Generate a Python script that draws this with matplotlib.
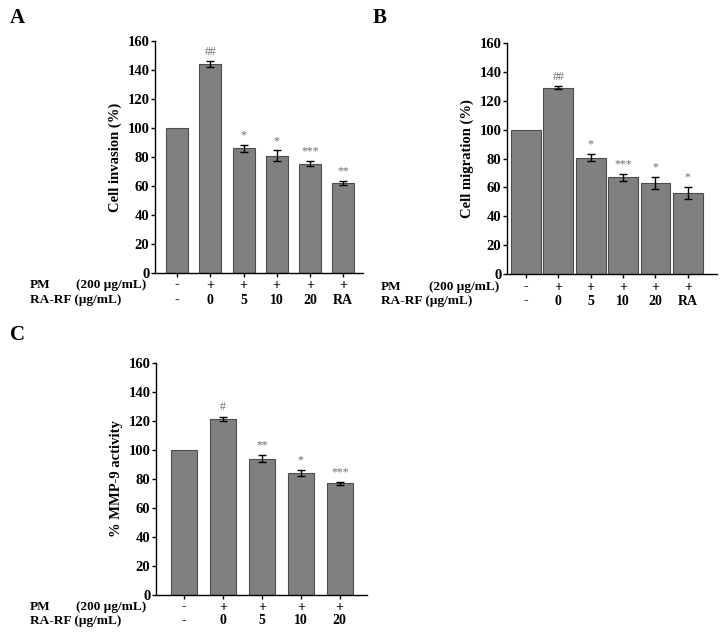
import matplotlib
matplotlib.use('Agg')
import matplotlib.pyplot as plt
import matplotlib.transforms as mtransforms

SERIF = 'Liberation Serif'
BAR = '#808080'
EDGE = '#4d4d4d'
STAR = '#6e6e6e'

# ───────────── DATA ─────────────
pm_row = ['-', '+', '+', '+', '+', '+']
rarf_row = ['-', '0', '5', '10', '20', 'RA']

inv_vals = [100, 144, 86, 81, 75.5, 62]
inv_err = [0, 2, 2.5, 3.5, 1.5, 1.5]
inv_sig = ['', '##', '*', '*', '***', '**']

mig_vals = [100, 129, 80.5, 67, 63, 56]
mig_err = [0, 1, 2.5, 2.5, 4, 4]
mig_sig = ['', '##', '*', '***', '*', '*']

mmp_pm = ['-', '+', '+', '+', '+']
mmp_rarf = ['-', '0', '5', '10', '20']
mmp_vals = [100, 121.5, 94, 84, 77]
mmp_err = [0, 1.5, 2.5, 2, 1]
mmp_sig = ['', '#', '**', '*', '***']

W, H = 726, 636
fig = plt.figure(figsize=(W / 100, H / 100), dpi=100)


def px_axes(x0, x1, y_top, y_bot):
    return fig.add_axes([x0 / W, 1 - y_bot / H, (x1 - x0) / W, (y_bot - y_top) / H])


def panel(ax, vals, err, sig, pm, rarf, ylabel, width, xlim, rows_px, row_x):
    x = list(range(len(vals)))
    ax.bar(x, vals, width=width, color=BAR, edgecolor=EDGE, linewidth=0.8, zorder=2)
    ax.errorbar(x[1:], vals[1:], yerr=err[1:], fmt='none', ecolor='black',
                elinewidth=1, capsize=3, capthick=1, zorder=3)
    for xi, v, e, s in zip(x, vals, err, sig):
        if s:
            ax.text(xi, v + e + 2.5, s, ha='center', va='bottom', fontsize=8.5,
                    color=STAR, family=SERIF)
    ax.set_xlim(*xlim)
    ax.set_ylim(0, 160)
    ax.set_yticks(range(0, 161, 20))
    for lab in ax.get_yticklabels():
        lab.set_fontfamily(SERIF)
        lab.set_fontweight('bold')
        lab.set_fontsize(10.5)
    ax.set_xticks(x)
    ax.set_xticklabels([])
    ax.tick_params(axis='y', length=3, width=1, pad=1)
    ax.tick_params(axis='x', length=3, width=1)
    for sp in ['top', 'right']:
        ax.spines[sp].set_visible(False)
    for sp in ['left', 'bottom']:
        ax.spines[sp].set_linewidth(1)
    ax.set_ylabel(ylabel, fontsize=10.5, fontweight='bold', family=SERIF, labelpad=4)

    # treatment rows under the bars
    trans = mtransforms.blended_transform_factory(ax.transData, fig.transFigure)
    y1, y2 = 1 - rows_px[0] / H, 1 - rows_px[1] / H
    for xi, a, b in zip(x, pm, rarf):
        ax.text(xi, y1, a, transform=trans, ha='center', va='center', fontsize=10,
                fontweight='bold', family=SERIF)
        ax.text(xi, y2, b, transform=trans, ha='center', va='center', fontsize=10,
                fontweight='bold', family=SERIF)
    fig.text(row_x[0] / W, y1, 'PM', ha='left', va='center', fontsize=9.5,
             fontweight='bold', family=SERIF)
    fig.text(row_x[1] / W, y1, '(200 µg/mL)', ha='right', va='center', fontsize=9.5,
             fontweight='bold', family=SERIF)
    fig.text(row_x[0] / W, y2, 'RA-RF (µg/mL)', ha='left', va='center', fontsize=9.5,
             fontweight='bold', family=SERIF)


axA = px_axes(155, 363, 41, 273)
panel(axA, inv_vals, inv_err, inv_sig, pm_row, rarf_row, 'Cell invasion (%)',
      0.66, (-0.67, 5.6), (285, 300), (30, 146))

axB = px_axes(507, 717, 43, 274)
panel(axB, mig_vals, mig_err, mig_sig, pm_row, rarf_row, 'Cell migration (%)',
      0.92, (-0.58, 5.9), (287, 301), (381, 499))

axC = px_axes(156, 367, 363, 595)
panel(axC, mmp_vals, mmp_err, mmp_sig, mmp_pm, mmp_rarf, '% MMP-9 activity',
      0.67, (-0.72, 4.7), (607, 621), (30, 146))

for lbl, xp, yp in [('A', 10, 18), ('B', 373, 18), ('C', 10, 335)]:
    fig.text(xp / W, 1 - yp / H, lbl, ha='left', va='center', fontsize=15,
             fontweight='bold', family=SERIF)

fig.savefig('out.png', dpi=100, facecolor='white')
